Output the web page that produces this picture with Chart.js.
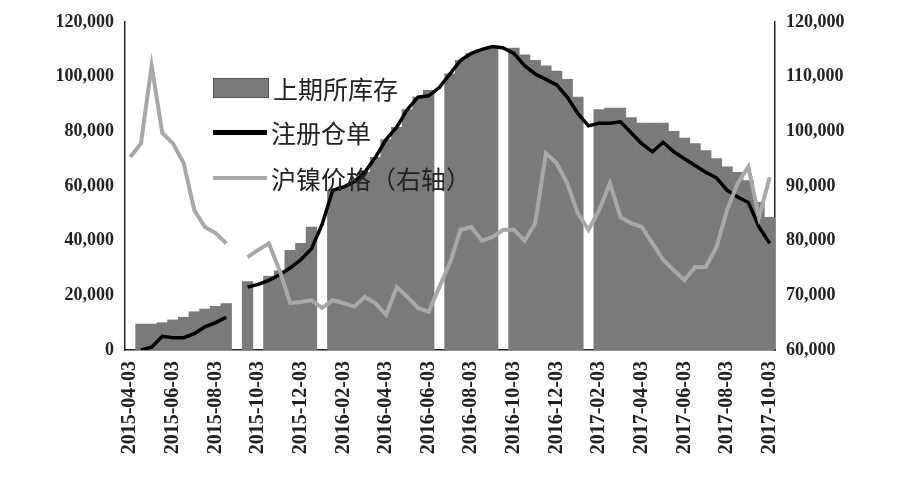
<!DOCTYPE html>
<html><head><meta charset="utf-8">
<script src="https://cdn.jsdelivr.net/npm/chart.js@4"></script>
<style>
body{margin:0;background:#fff;}
#wrap{position:relative;width:900px;height:504px;}
.leg{position:absolute;left:213px;font-family:"Noto Sans CJK SC";font-size:25px;color:#222;display:flex;align-items:center;line-height:30px;}
.leg i{display:inline-block;width:54px;margin-right:4px;}
</style></head><body>
<div id="wrap">
<canvas id="c" width="900" height="504"></canvas>
<div class="leg" style="top:73px"><i style="height:18px;background:#7a7a7a;border:1px solid #555"></i>上期所库存</div>
<div class="leg" style="top:117px"><i style="height:5px;background:#000"></i>注册仓单</div>
<div class="leg" style="top:163px"><i style="height:4px;background:#a8a8a8"></i>沪镍价格（右轴）</div>
</div>
<script>
// half-monthly dates (3rd and 18th)
var dates = [];
for (var y = 2015; y <= 2017; y++) {
  for (var m = 1; m <= 12; m++) {
    if ((y === 2015 && m < 4) || (y === 2017 && m > 10)) continue;
    var mm = ('0' + m).slice(-2);
    dates.push(y + '-' + mm + '-03');
    if (!(y === 2017 && m === 10)) dates.push(y + '-' + mm + '-18');
  }
}

var inventory = [null, 9500, 9500, 10000, 11000, 12000, 14000, 15000, 16000, 17000,
  null, 25000, null, 27000, 29000, 36500, 39000, 45000, null, 58500,
  60000, 61500, 65000, 70500, 77000, 81500, 88000, 92500, 95000, null,
  101000, 106000, 108500, 110000, 111000, null, 110500, 108000, 106000, 104000,
  102000, 99000, 92500, null, 88000, 88500, 88500, 85000, 83000, 83000,
  83000, 80000, 77500, 75500, 73000, 70000, 67000, 65000, 62000, 54000, 48500];

var warrants = [null, 0, 1000, 5000, 4500, 4500, 6000, 8500, 10000, 12000,
  null, 23000, 24000, 25500, 27500, 30000, 33000, 37000, 46000, 58500,
  59600, 61500, 65000, 70500, 77000, 81500, 88000, 92500, 93000, 96000,
  101000, 106000, 108500, 110000, 111000, 110500, 108500, 104000, 101000, 99000,
  97000, 92500, 86500, 82000, 83000, 83000, 83500, 79500, 75500, 72500,
  76000, 72500, 70000, 67500, 65000, 63000, 58500, 56000, 54000, 45000, 39000];

var nickel = [95300, 97800, 112000, 99700, 97800, 94200, 85600, 82500, 81400, 79500,
  null, 77000, 78300, 79500, 74600, 68600, 68800, 69100, 67700, 69100,
  68600, 67900, 69700, 68600, 66400, 71500, 69700, 67700, 67000, 71500,
  76000, 82000, 82500, 80000, 80700, 82000, 82000, 80000, 83200, 96000,
  94200, 90500, 85000, 82000, 85600, 90500, 84300, 83200, 82500, 79500,
  76500, 74600, 72800, 75200, 75200, 78800, 85600, 90500, 93500, 84300, 91600];

var tickFont = { family: 'Liberation Serif', size: 18, weight: 'bold' };
function fixW(w) { return function (s) { s.width = w; }; }

new Chart(document.getElementById('c'), {
  data: {
    labels: dates,
    datasets: [
      { type: 'line', label: '沪镍价格（右轴）', data: nickel, yAxisID: 'y2', borderColor: '#a8a8a8', borderWidth: 4, pointRadius: 0, tension: 0, order: 0 },
      { type: 'line', label: '注册仓单', data: warrants, yAxisID: 'y', borderColor: '#000', borderWidth: 3.5, pointRadius: 0, tension: 0, order: 1 },
      { type: 'bar', label: '上期所库存', data: inventory, yAxisID: 'y', backgroundColor: '#7a7a7a', categoryPercentage: 1, barPercentage: 1, order: 2 }
    ]
  },
  options: {
    responsive: false,
    animation: false,
    layout: { padding: { top: 22, right: 0, bottom: 0, left: 0 } },
    plugins: { legend: { display: false }, tooltip: { enabled: false } },
    scales: {
      x: {
        offset: true,
        afterFit: function (s) { s.height = 154; },
        grid: { display: false, drawTicks: true },
        border: { color: '#222', width: 1.5 },
        ticks: {
          autoSkip: false, minRotation: 90, maxRotation: 90, color: '#222',
          font: { family: 'Liberation Serif', size: 20, weight: 'bold' },
          callback: function (v, i) { return i % 4 === 0 ? dates[i] : ''; }
        }
      },
      y: {
        position: 'left', min: 0, max: 120000, afterFit: fixW(125),
        grid: { display: false },
        border: { color: '#222', width: 1.5 },
        ticks: { stepSize: 20000, color: '#222', font: tickFont, callback: function (v) { return v.toLocaleString('en-US'); } }
      },
      y2: {
        position: 'right', min: 60000, max: 120000, afterFit: fixW(125),
        grid: { display: false },
        border: { color: '#222', width: 1.5 },
        ticks: { stepSize: 10000, color: '#222', font: tickFont, callback: function (v) { return v.toLocaleString('en-US'); } }
      }
    }
  }
});
</script>
</body></html>
